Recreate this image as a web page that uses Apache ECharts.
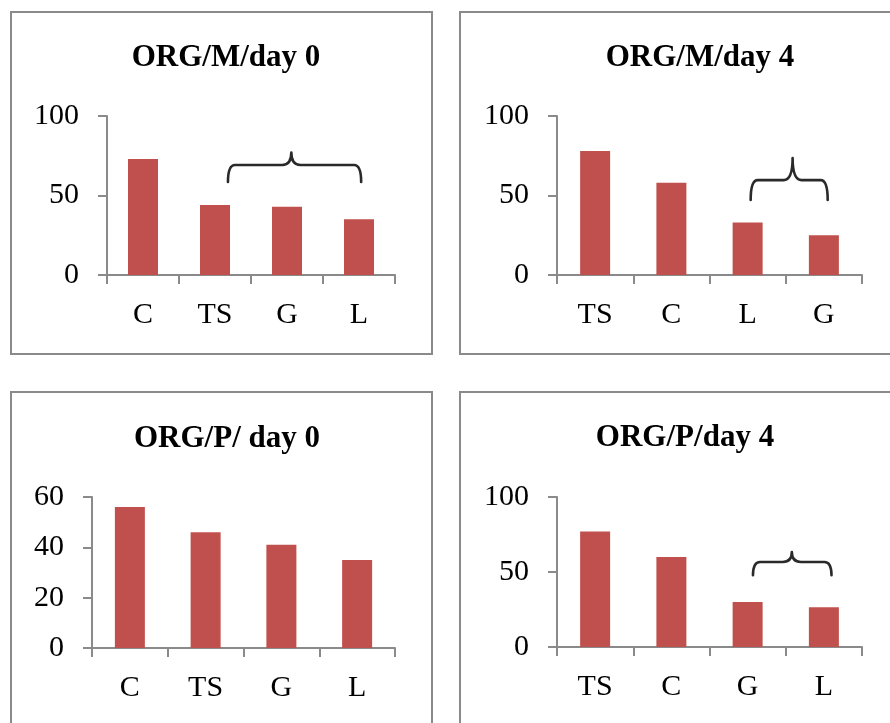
<!DOCTYPE html>
<html>
<head>
<meta charset="utf-8">
<script src="https://cdn.jsdelivr.net/npm/echarts@6/dist/echarts.min.js"></script>
<style>
html,body{margin:0;padding:0;background:#fff;}
#c{width:890px;height:723px;}
</style>
</head>
<body>
<div id="c"></div>
<script>
// ---- data ----
var titles = ['ORG/M/day 0', 'ORG/M/day 4', 'ORG/P/ day 0', 'ORG/P/day 4'];
var catsM0 = ['C', 'TS', 'G', 'L'];
var valsM0 = [73, 44, 43, 35];
var catsM4 = ['TS', 'C', 'L', 'G'];
var valsM4 = [78, 58, 33, 25];
var catsP0 = ['C', 'TS', 'G', 'L'];
var valsP0 = [56, 46, 41, 35];
var catsP4 = ['TS', 'C', 'G', 'L'];
var valsP4 = [77, 60, 30, 26.5];
var yMaxes = [100, 100, 60, 100];
var yIntervals = [50, 50, 20, 50];
// braces: [xStart, xMid, xEnd, yEnd, yLine, yTip] in category-index / value units
var braceM0 = [1.18, 2.06, 3.03, 58.5, 69.2, 77];
var braceM4 = [2.04, 2.59, 3.05, 47.2, 59.7, 73.6];
var braceP4 = [2.07, 2.58, 3.10, 47.8, 56.7, 63.3];

var cats = [catsM0, catsM4, catsP0, catsP4];
var vals = [valsM0, valsM4, valsP0, valsP4];
var braces = [braceM0, braceM4, null, braceP4];

var FONT = "'Liberation Serif', 'DejaVu Serif', serif";
var AXIS = '#8a8a8a';
var grids = [
  {left: 107, top: 116, width: 288, height: 159},
  {left: 557, top: 116, width: 305, height: 159},
  {left: 92, top: 497, width: 303, height: 151},
  {left: 557, top: 497, width: 305, height: 150}
];
var titlePos = [
  {x: 221, y: 37}, {x: 695, y: 37}, {x: 222, y: 418}, {x: 680, y: 417}
];

var option = {
  animation: false,
  backgroundColor: '#ffffff',
  title: [], grid: [], xAxis: [], yAxis: [], series: [],
  graphic: [
    {type: 'rect', shape: {x: 11, y: 12, width: 421, height: 342}, style: {fill: 'none', stroke: AXIS, lineWidth: 2}, silent: true},
    {type: 'rect', shape: {x: 460, y: 12, width: 460, height: 342}, style: {fill: 'none', stroke: AXIS, lineWidth: 2}, silent: true},
    {type: 'rect', shape: {x: 11, y: 392, width: 421, height: 400}, style: {fill: 'none', stroke: AXIS, lineWidth: 2}, silent: true},
    {type: 'rect', shape: {x: 460, y: 392, width: 460, height: 400}, style: {fill: 'none', stroke: AXIS, lineWidth: 2}, silent: true}
  ]
};

for (var i = 0; i < 4; i++) {
  option.title.push({
    text: titles[i],
    left: titlePos[i].x, top: titlePos[i].y,
    textAlign: 'center',
    textStyle: {fontFamily: FONT, fontWeight: 'bold', fontSize: 31, color: '#000'}
  });
  option.grid.push(grids[i]);
  option.xAxis.push({
    type: 'category', gridIndex: i, data: cats[i],
    axisLine: {show: true, onZero: false, lineStyle: {color: AXIS, width: 2}},
    axisTick: {show: true, length: 9, lineStyle: {color: AXIS, width: 2}},
    axisLabel: {fontFamily: FONT, fontSize: 30, color: '#000', margin: 25},
    splitLine: {show: false}
  });
  option.yAxis.push({
    type: 'value', gridIndex: i, min: 0, max: yMaxes[i], interval: yIntervals[i],
    axisLine: {show: true, onZero: false, lineStyle: {color: AXIS, width: 2}},
    axisTick: {show: true, length: 9, lineStyle: {color: AXIS, width: 2}},
    axisLabel: {fontFamily: FONT, fontSize: 30, color: '#000', margin: 28},
    splitLine: {show: false}
  });
  option.series.push({
    type: 'bar', xAxisIndex: i, yAxisIndex: i, data: vals[i],
    barWidth: 30,
    itemStyle: {color: '#C0504D'},
    silent: true
  });
}

// hidden value x-axes for brace placement
for (var j = 0; j < 4; j++) {
  option.xAxis.push({
    type: 'value', gridIndex: j, min: -0.5, max: 3.5, show: false,
    axisLine: {onZero: false}
  });
}

for (var k = 0; k < 4; k++) {
  if (!braces[k]) continue;
  option.series.push({
    type: 'custom', xAxisIndex: 4 + k, yAxisIndex: k,
    data: [braces[k]], silent: true, z: 5,
    renderItem: function (params, api) {
      var x0 = api.value(0), xm = api.value(1), x1 = api.value(2);
      var yE = api.value(3), yL = api.value(4), yT = api.value(5);
      var pA = api.coord([x0, yE]);
      var pB = api.coord([x0, yL]);
      var pM = api.coord([xm, yL]);
      var pT = api.coord([xm, yT]);
      var pC = api.coord([x1, yL]);
      var pD = api.coord([x1, yE]);
      var r = 7, r2 = 9;
      var d = 'M' + pA[0] + ',' + pA[1] +
        ' Q' + pB[0] + ',' + pB[1] + ' ' + (pB[0] + r) + ',' + pB[1] +
        ' L' + (pM[0] - r2) + ',' + pM[1] +
        ' Q' + pM[0] + ',' + pM[1] + ' ' + pT[0] + ',' + pT[1] +
        ' Q' + pM[0] + ',' + pM[1] + ' ' + (pM[0] + r2) + ',' + pM[1] +
        ' L' + (pC[0] - r) + ',' + pC[1] +
        ' Q' + pC[0] + ',' + pC[1] + ' ' + pD[0] + ',' + pD[1];
      return {
        type: 'path',
        shape: {pathData: d},
        style: {fill: 'none', stroke: '#2a2a2a', lineWidth: 2.6, lineCap: 'round', lineJoin: 'round'}
      };
    }
  });
}

var chart = echarts.init(document.getElementById('c'), null, {renderer: 'canvas'});
chart.setOption(option);
</script>
</body>
</html>
